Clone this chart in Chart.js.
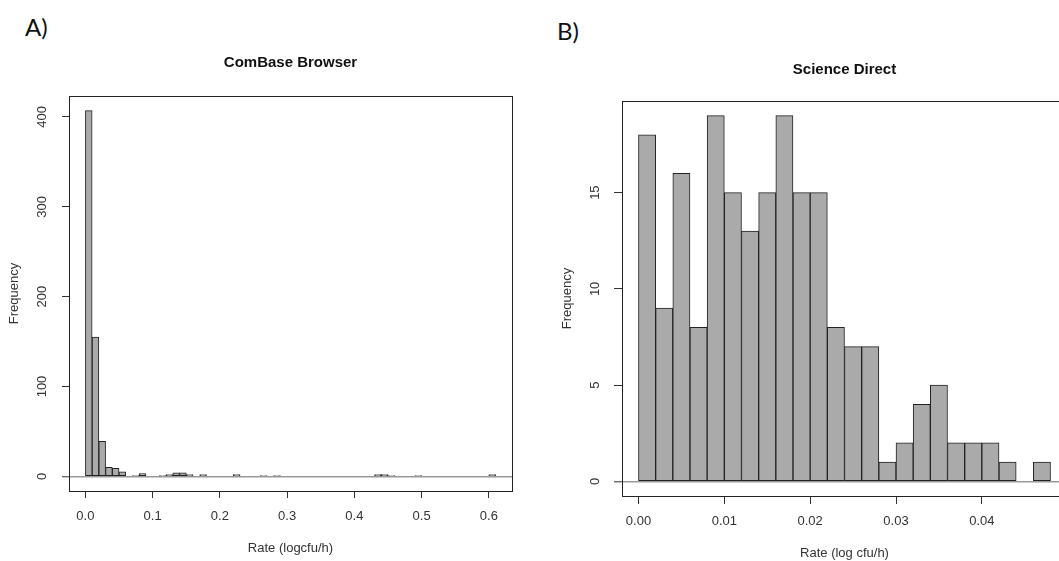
<!DOCTYPE html>
<html>
<head>
<meta charset="utf-8">
<script src="https://cdn.jsdelivr.net/npm/chart.js@4.4.1/dist/chart.umd.min.js"></script>
<style>
  html, body { margin: 0; padding: 0; background: #fff; overflow: hidden; width: 1059px; height: 561px; }
  canvas { position: absolute; top: 0; }
  #histA { left: 0; }
  #histB { left: 530px; }
  .panel { position: absolute; font-family: Lato, "Open Sans", sans-serif; font-size: 24px; color: #111; }
</style>
</head>
<body>
<div class="panel" style="left:25px;top:12px">A)</div>
<div class="panel" style="left:557px;top:16px">B)</div>
<canvas id="histA" width="581" height="561"></canvas>
<canvas id="histB" width="629" height="561"></canvas>
<script>
// ComBase Browser: bins of 0.01 from 0 to 0.61
var binWidthA = 0.01;
var countsA = [407, 155, 39, 10, 9, 5, 0, 1, 3, 0,
               0, 1, 2, 4, 4, 2, 0, 2, 0, 0,
               0, 0, 2, 0, 0, 0, 1, 0, 1, 0,
               0, 0, 0, 0, 0, 0, 0, 0, 0, 0,
               0, 0, 0, 2, 2, 1, 0, 0, 0, 1,
               0, 0, 0, 0, 0, 0, 0, 0, 0, 0,
               2];
var xTicksA = [0, 0.1, 0.2, 0.3, 0.4, 0.5, 0.6];
var yTicksA = [0, 100, 200, 300, 400];

// Science Direct: bins of 0.002 from 0 to 0.048
var binWidthB = 0.002;
var countsB = [18, 9, 16, 8, 19, 15, 13, 15, 19, 15, 15, 8, 7, 7, 1, 2, 4, 5, 2, 2, 2, 1, 0, 1];
var xTicksB = [0, 0.01, 0.02, 0.03, 0.04];
var yTicksB = [0, 5, 10, 15];

Chart.defaults.font.family = '"Liberation Sans", Arial, sans-serif';

// R-style box around the plot region
var boxPlugin = {
    id: 'box',
    afterDatasetsDraw: function (chart) {
        var a = chart.chartArea, ctx = chart.ctx;
        ctx.save();
        ctx.strokeStyle = '#222';
        ctx.lineWidth = 1;
        ctx.strokeRect(Math.round(a.left) + 0.5, Math.round(a.top) + 0.5,
            Math.round(a.right - a.left), Math.round(a.bottom - a.top));
        ctx.restore();
    }
};

// y tick labels turned 90 degrees like R's las = 0
var yLabelPlugin = {
    id: 'ylabels',
    afterDraw: function (chart) {
        var s = chart.scales.y, ctx = chart.ctx;
        ctx.save();
        ctx.font = '13px "Liberation Sans", Arial, sans-serif';
        ctx.fillStyle = '#333';
        ctx.textAlign = 'center';
        ctx.textBaseline = 'middle';
        s.ticks.forEach(function (t) {
            ctx.save();
            ctx.translate(chart.chartArea.left - 27, s.getPixelForValue(t.value));
            ctx.rotate(-Math.PI / 2);
            ctx.fillText(String(t.value), 0, 0);
            ctx.restore();
        });
        ctx.restore();
    }
};

function makeHist(id, p) {
    var points = p.counts.map(function (c, i) {
        return { x: (i + 0.5) * p.binWidth, y: c };
    });
    var xRange = p.counts.length * p.binWidth;
    var yMax = Math.max.apply(null, p.counts);

    new Chart(document.getElementById(id), {
        type: 'bar',
        data: {
            datasets: [{
                data: points,
                backgroundColor: '#aaaaaa',
                borderColor: '#222',
                borderWidth: 1,
                borderSkipped: false,
                barPercentage: 1,
                categoryPercentage: 1
            }]
        },
        options: {
            responsive: false,
            animation: false,
            events: [],
            layout: { padding: 0 },
            plugins: {
                legend: { display: false },
                tooltip: { enabled: false },
                title: {
                    display: true,
                    text: p.title,
                    color: '#111',
                    font: { size: 15, weight: 'bold' },
                    padding: { top: p.titleTop, bottom: p.titleBottom }
                }
            },
            scales: {
                x: {
                    type: 'linear',
                    offset: false,
                    min: -0.04 * xRange,
                    max: 1.04 * xRange,
                    afterBuildTicks: function (s) { s.ticks = p.xTicks.map(function (v) { return { value: v }; }); },
                    afterFit: function (s) { s.height = p.xAxisH; },
                    grid: { offset: false, drawOnChartArea: false, tickLength: p.tickLen, tickColor: '#333' },
                    border: { display: false },
                    ticks: {
                        color: '#333',
                        font: { size: 13 },
                        padding: p.xTickPad,
                        autoSkip: false,
                        maxRotation: 0,
                        callback: function (v) { return v.toFixed(p.xDigits); }
                    },
                    title: {
                        display: true,
                        text: p.xTitle,
                        color: '#333',
                        font: { size: 13 },
                        padding: { top: 0, bottom: p.xTitlePad }
                    }
                },
                y: {
                    type: 'linear',
                    min: -0.04 * yMax,
                    max: 1.04 * yMax,
                    afterBuildTicks: function (s) { s.ticks = p.yTicks.map(function (v) { return { value: v }; }); },
                    afterFit: function (s) { s.width = p.yAxisW; },
                    grid: {
                        drawOnChartArea: true,
                        tickLength: p.tickLen,
                        tickColor: '#333',
                        tickWidth: 1,
                        color: function (c) { return c.tick && c.tick.value === 0 ? '#999' : 'rgba(0,0,0,0)'; },
                        lineWidth: function (c) { return c.tick && c.tick.value === 0 ? 1.6 : 1; }
                    },
                    border: { display: false },
                    ticks: { display: false },
                    title: {
                        display: true,
                        text: 'Frequency',
                        color: '#333',
                        font: { size: 13 },
                        padding: { top: p.yTitlePad, bottom: 0 }
                    }
                },
                // empty right axis so the title centres over the plot region
                yr: {
                    type: 'linear',
                    position: 'right',
                    grid: { display: false },
                    ticks: { display: false },
                    border: { display: false },
                    afterFit: function (s) { s.width = p.yAxisW; }
                }
            }
        },
        plugins: [boxPlugin, yLabelPlugin]
    });
}

makeHist('histA', {
    counts: countsA, binWidth: binWidthA, xTicks: xTicksA, yTicks: yTicksA, xDigits: 1,
    title: 'ComBase Browser', xTitle: 'Rate (logcfu/h)',
    titleTop: 54, titleBottom: 24, xAxisH: 70, yAxisW: 69,
    tickLen: 7, xTickPad: 11, xTitlePad: 5, yTitlePad: 7
});

makeHist('histB', {
    counts: countsB, binWidth: binWidthB, xTicks: xTicksB, yTicks: yTicksB, xDigits: 2,
    title: 'Science Direct', xTitle: 'Rate (log cfu/h)',
    titleTop: 61, titleBottom: 22, xAxisH: 65, yAxisW: 92,
    tickLen: 8, xTickPad: 10, xTitlePad: 0, yTitlePad: 30
});
</script>
</body>
</html>
